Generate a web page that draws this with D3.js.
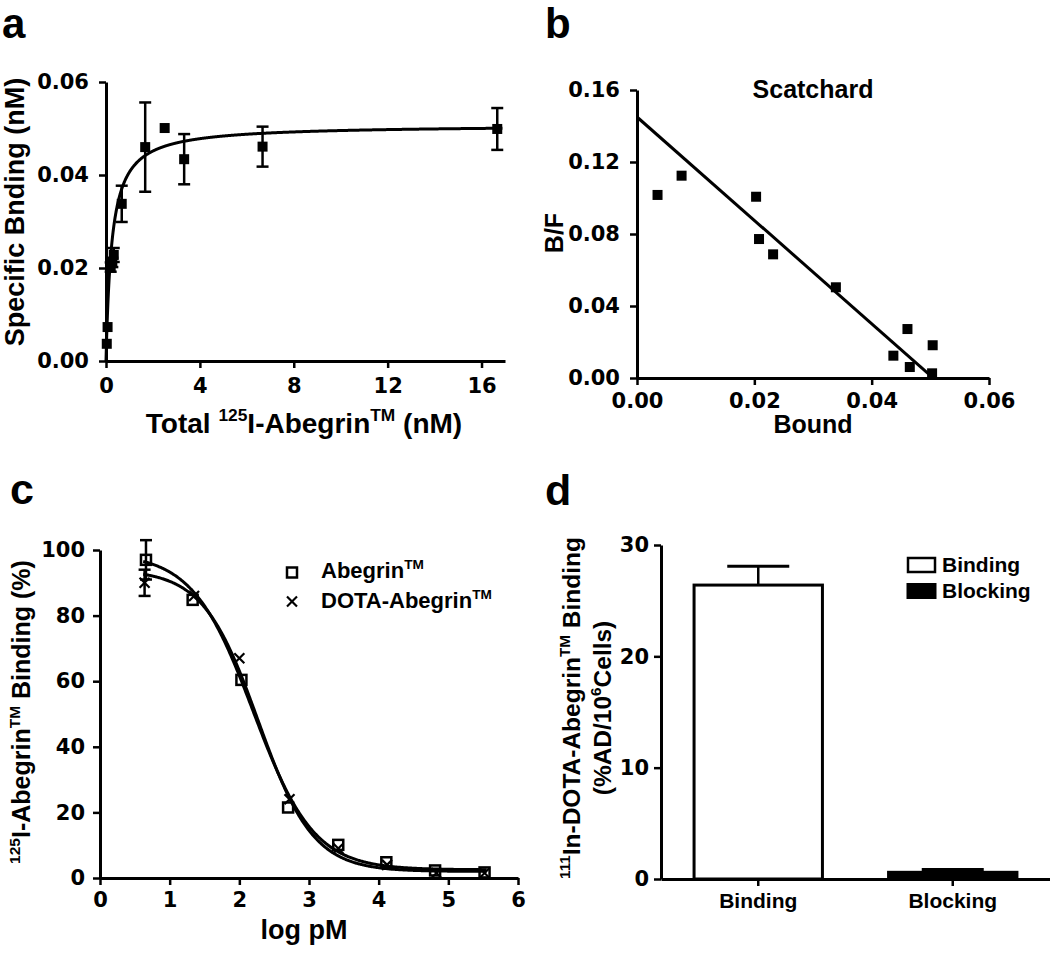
<!DOCTYPE html>
<html><head><meta charset="utf-8">
<script src="https://cdn.jsdelivr.net/npm/d3@7"></script>
<style>
body{margin:0;background:#fff}
svg{display:block}
text{font-family:"Liberation Sans",Arial,sans-serif;font-weight:bold;fill:#000}
</style>
</head><body>
<svg id="chart" width="1050" height="956"></svg>
<script>
// ---------- Panel a: saturation binding ----------
const satConc  = [0.033, 0.067, 0.2, 0.27, 0.33, 0.67, 1.67, 2.5, 3.33, 6.67, 16.67];
const satBound = [0.0037, 0.0073, 0.0202, 0.0212, 0.0228, 0.0338, 0.0460, 0.0501, 0.0434, 0.0461, 0.0499];
const satErr   = [0, 0, 0.0010, 0.0010, 0.0015, 0.0039, 0.0096, 0, 0.0054, 0.0043, 0.0045];
const satBmax = 0.0508, satKd = 0.25;          // one-site fit shown as the curve
const aXTicks = [0, 4, 8, 12, 16];
const aYTicks = [0, 0.02, 0.04, 0.06];

// ---------- Panel b: Scatchard ----------
const scBound = [0.0035, 0.0076, 0.0203, 0.0208, 0.0232, 0.0339, 0.0437, 0.0461, 0.0465, 0.0504, 0.0503];
const scBF    = [0.1017, 0.1124, 0.1007, 0.0772, 0.0687, 0.0504, 0.0124, 0.0272, 0.0061, 0.0182, 0.0026];
const scIntercept = 0.145, scBmax = 0.0505;    // fitted Scatchard line
const bXTicks = [0, 0.02, 0.04, 0.06];
const bYTicks = [0, 0.04, 0.08, 0.12, 0.16];

// ---------- Panel c: competition ----------
const abLog  = [0.66, 1.33, 2.03, 2.70, 3.42, 4.11, 4.81, 5.52];
const abVal  = [97, 84.8, 60.4, 21.5, 10.1, 4.8, 2.3, 1.7];
const abErr  = [6, 0, 0, 0, 0, 0, 0, 0];
const dotaLog = [0.64, 1.35, 2.0, 2.72, 3.42, 4.12, 4.83, 5.52];
const dotaVal = [90, 86, 67, 24, 9, 4, 1.5, 1.5];
const dotaErr = [4, 0, 0, 0, 0, 0, 0, 0];
const abFit   = {top: 99, bottom: 2.5, logIC50: 2.20, hill: 1.0};
const dotaFit = {top: 94, bottom: 2.0, logIC50: 2.27, hill: 1.1};
const cXTicks = [0, 1, 2, 3, 4, 5, 6];
const cYTicks = [0, 20, 40, 60, 80, 100];

// ---------- Panel d: bars ----------
const dCats = ["Binding", "Blocking"];
const dVals = [26.4, 0.6];
const dErrs = [1.7, 0.25];
const dYTicks = [0, 10, 20, 30];

const svg = d3.select("#chart");
const tickFont = {family: '"DejaVu Sans", sans-serif', size: 21};

function styleAxis(g, font) {
  g.select(".domain").attr("stroke", "#000").attr("stroke-width", 3);
  g.selectAll(".tick line").attr("stroke", "#000").attr("stroke-width", 2.5);
  g.selectAll(".tick text").attr("fill", "#000")
    .style("font-family", font.family).style("font-size", font.size + "px").style("font-weight", "bold");
}
// text with superscripts: parts = [[str, isSup], ...]
function rich(textSel, parts, size) {
  let cur = 0;
  parts.forEach(([s, sup]) => {
    const want = sup ? -0.42 * size : 0;
    const t = textSel.append("tspan").text(s).attr("dy", want - cur);
    if (sup) t.attr("font-size", size * 0.62);
    cur = want;
  });
  return textSel;
}
function label(x, y, str, size, opts = {}) {
  const t = svg.append("text").attr("font-size", size);
  if (opts.rotate) t.attr("transform", `translate(${x},${y}) rotate(-90)`);
  else t.attr("x", x).attr("y", y);
  t.attr("text-anchor", opts.anchor || "middle");
  if (typeof str === "string") t.text(str); else rich(t, str, size);
  return t;
}

// Panel letters
label(2, 38, "a", 42, {anchor: "start"});
label(545, 38, "b", 42, {anchor: "start"});
label(10, 504, "c", 43, {anchor: "start"});
label(545, 505, "d", 43, {anchor: "start"});

// ================= Panel a =================
{
  const x = d3.scaleLinear([0, 17], [106, 505]);
  const y = d3.scaleLinear([0, 0.06], [361, 82]);
  const g = svg.append("g");
  const pts = satConc.map((c, i) => ({x: c, y: satBound[i], e: satErr[i]}));
  pts.filter(d => d.e > 0).forEach(d => {
    g.append("line").attr("x1", x(d.x)).attr("x2", x(d.x)).attr("y1", y(d.y - d.e)).attr("y2", y(d.y + d.e))
      .attr("stroke", "#000").attr("stroke-width", 2.5);
    [d.y - d.e, d.y + d.e].forEach(v => g.append("line").attr("x1", x(d.x) - 6).attr("x2", x(d.x) + 6)
      .attr("y1", y(v)).attr("y2", y(v)).attr("stroke", "#000").attr("stroke-width", 2.5));
  });
  const curve = d3.range(0, 16.9, 0.01).map(c => [c, satBmax * c / (satKd + c)]);
  g.append("path").attr("d", d3.line().x(d => x(d[0])).y(d => y(d[1]))(curve))
    .attr("fill", "none").attr("stroke", "#000").attr("stroke-width", 3);
  g.selectAll("rect.pt").data(pts).join("rect").attr("class", "pt")
    .attr("x", d => x(d.x) - 5).attr("y", d => y(d.y) - 5).attr("width", 10).attr("height", 10).attr("fill", "#000");
  const ax = svg.append("g").attr("transform", "translate(0,361)")
    .call(d3.axisBottom(x).tickValues(aXTicks).tickSize(7).tickPadding(10).tickSizeOuter(0));
  styleAxis(ax, tickFont);
  const ay = svg.append("g").attr("transform", "translate(106,0)")
    .call(d3.axisLeft(y).tickValues(aYTicks).tickFormat(d3.format(".2f")).tickSize(7).tickPadding(10).tickSizeOuter(0));
  styleAxis(ay, tickFont);
  label(24, 212, "Specific Bnding (nM)", 27, {rotate: true});
  label(304, 433, [["Total ", 0], ["125", 1], ["I-Abegrin", 0], ["TM", 1], [" (nM)", 0]], 28);
}

// ================= Panel b =================
{
  const x = d3.scaleLinear([0, 0.06], [637, 989]);
  const y = d3.scaleLinear([0, 0.16], [378, 90]);
  const g = svg.append("g");
  const xEnd = scBmax * 0.984;
  const line = [[0, scIntercept], [xEnd, scIntercept * (1 - xEnd / scBmax)]];
  g.append("path").attr("d", d3.line().x(d => x(d[0])).y(d => y(d[1]))(line))
    .attr("fill", "none").attr("stroke", "#000").attr("stroke-width", 3);
  g.selectAll("rect").data(scBound.map((b, i) => [b, scBF[i]])).join("rect")
    .attr("x", d => x(d[0]) - 5).attr("y", d => y(d[1]) - 5).attr("width", 10).attr("height", 10).attr("fill", "#000");
  const ax = svg.append("g").attr("transform", "translate(0,378)")
    .call(d3.axisBottom(x).tickValues(bXTicks).tickFormat(d3.format(".2f")).tickSize(7).tickPadding(8).tickSizeOuter(0));
  styleAxis(ax, tickFont);
  const ay = svg.append("g").attr("transform", "translate(637,0)")
    .call(d3.axisLeft(y).tickValues(bYTicks).tickFormat(d3.format(".2f")).tickSize(7).tickPadding(10).tickSizeOuter(0));
  styleAxis(ay, tickFont);
  label(813, 98, "Scatchard", 25);
  label(563, 233, "B/F", 25, {rotate: true});
  label(813, 433, "Bound", 25);
}

// ================= Panel c =================
{
  const x = d3.scaleLinear([0, 6], [100, 518]);
  const y = d3.scaleLinear([0, 100], [878, 550]);
  const g = svg.append("g");
  const sig = f => lx => f.bottom + (f.top - f.bottom) / (1 + Math.pow(10, f.hill * (lx - f.logIC50)));
  const ln = d3.line().x(d => x(d[0])).y(d => y(d[1]));
  [abFit, dotaFit].forEach(f => {
    const fn = sig(f);
    g.append("path").attr("d", ln(d3.range(0.62, 5.56, 0.01).map(v => [v, fn(v)])))
      .attr("fill", "none").attr("stroke", "#000").attr("stroke-width", 3);
  });
  const errBars = (xs, vs, es) => xs.forEach((lx, i) => {
    if (es[i] <= 0) return;
    g.append("line").attr("x1", x(lx)).attr("x2", x(lx)).attr("y1", y(vs[i] - es[i])).attr("y2", y(vs[i] + es[i]))
      .attr("stroke", "#000").attr("stroke-width", 2.5);
    [vs[i] - es[i], vs[i] + es[i]].forEach(v => g.append("line").attr("x1", x(lx) - 6).attr("x2", x(lx) + 6)
      .attr("y1", y(v)).attr("y2", y(v)).attr("stroke", "#000").attr("stroke-width", 2.5));
  });
  errBars(abLog, abVal, abErr);
  errBars(dotaLog, dotaVal, dotaErr);
  const sq = (px, py) => g.append("rect").attr("x", px - 5).attr("y", py - 5).attr("width", 10).attr("height", 10)
    .attr("fill", "none").attr("stroke", "#000").attr("stroke-width", 2.5);
  const cross = (px, py) => {
    g.append("line").attr("x1", px - 5).attr("y1", py - 5).attr("x2", px + 5).attr("y2", py + 5).attr("stroke", "#000").attr("stroke-width", 2.2);
    g.append("line").attr("x1", px - 5).attr("y1", py + 5).attr("x2", px + 5).attr("y2", py - 5).attr("stroke", "#000").attr("stroke-width", 2.2);
  };
  abLog.forEach((lx, i) => sq(x(lx), y(abVal[i])));
  dotaLog.forEach((lx, i) => cross(x(lx), y(dotaVal[i])));
  sq(292, 572.5);
  cross(292, 601.5);
  label(321, 578, [["Abegrin", 0], ["TM", 1]], 22, {anchor: "start"});
  label(321, 608, [["DOTA-Abegrin", 0], ["TM", 1]], 22, {anchor: "start"});

  const ax = svg.append("g").attr("transform", "translate(0,878)")
    .call(d3.axisBottom(x).tickValues(cXTicks).tickFormat(d3.format("d")).tickSize(7).tickPadding(7).tickSizeOuter(0));
  styleAxis(ax, tickFont);
  const ay = svg.append("g").attr("transform", "translate(100,0)")
    .call(d3.axisLeft(y).tickValues(cYTicks).tickFormat(d3.format("d")).tickSize(7).tickPadding(8).tickSizeOuter(0));
  styleAxis(ay, tickFont);
  label(30, 712, [["125", 1], ["I-Abegrin", 0], ["TM", 1], [" Binding (%)", 0]], 25, {rotate: true});
  label(304, 939, "log pM", 27);
}

// ================= Panel d =================
{
  const x = d3.scaleBand(dCats, [661, 1050]).paddingInner(0.34).paddingOuter(0.17);
  const y = d3.scaleLinear([0, 30], [879, 545]);
  const g = svg.append("g");
  dCats.forEach((c, i) => {
    const cx = x(c) + x.bandwidth() / 2;
    const top = y(dVals[i] + dErrs[i]);
    g.append("line").attr("x1", cx).attr("x2", cx).attr("y1", y(dVals[i])).attr("y2", top)
      .attr("stroke", "#000").attr("stroke-width", 2.5);
    g.append("line").attr("x1", cx - 31).attr("x2", cx + 31).attr("y1", top).attr("y2", top)
      .attr("stroke", "#000").attr("stroke-width", 3);
  });
  g.selectAll("rect.bar").data(dCats).join("rect").attr("class", "bar")
    .attr("x", c => x(c)).attr("width", x.bandwidth())
    .attr("y", (c, i) => y(dVals[i])).attr("height", (c, i) => y(0) - y(dVals[i]))
    .attr("fill", (c, i) => i === 0 ? "#fff" : "#000").attr("stroke", "#000").attr("stroke-width", 3);
  const ax = svg.append("g").attr("transform", "translate(0,879)")
    .call(d3.axisBottom(x).tickSize(7).tickPadding(7).tickSizeOuter(0));
  styleAxis(ax, {family: '"Liberation Sans", Arial, sans-serif', size: 21});
  const ay = svg.append("g").attr("transform", "translate(661,0)")
    .call(d3.axisLeft(y).tickValues(dYTicks).tickFormat(d3.format("d")).tickSize(7).tickPadding(5).tickSizeOuter(0));
  styleAxis(ay, tickFont);
  svg.append("rect").attr("x", 908).attr("y", 558).attr("width", 27).attr("height", 14)
    .attr("fill", "#fff").attr("stroke", "#000").attr("stroke-width", 2.5);
  svg.append("rect").attr("x", 906.5).attr("y", 583).attr("width", 30).attr("height", 16).attr("fill", "#000");
  label(942, 572, "Binding", 21, {anchor: "start"});
  label(942, 598, "Blocking", 21, {anchor: "start"});
  label(580, 708, [["111", 1], ["In-DOTA-Abegrin", 0], ["TM", 1], [" Binding", 0]], 24.5, {rotate: true});
  label(611, 708, [["(%AD/10", 0], ["6", 1], ["Cells)", 0]], 24.5, {rotate: true});
}
</script>
</body></html>
